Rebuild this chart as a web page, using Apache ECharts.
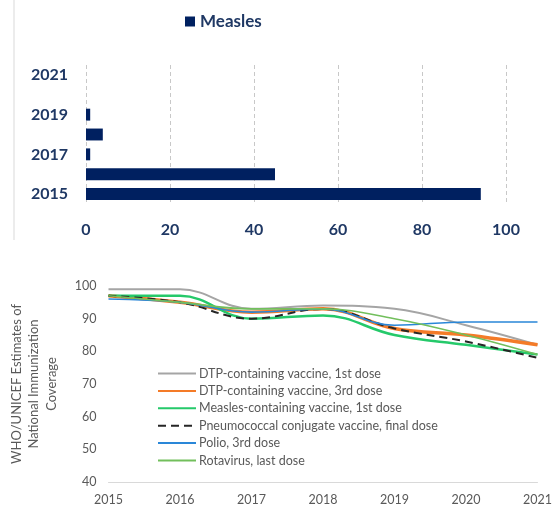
<!DOCTYPE html>
<html>
<head>
<meta charset="utf-8">
<script src="https://cdn.jsdelivr.net/npm/echarts@6/dist/echarts.min.js"></script>
<style>
  html, body { margin: 0; padding: 0; background: #fff; }
  #chart { width: 555px; height: 509px; }
</style>
</head>
<body>
<div id="chart"></div>
<script>
// top chart: measles cases per year
var barYears = ['2015', '2016', '2017', '2018', '2019', '2020', '2021'];
var measlesCases = [94, 45, 1, 4, 1, 0, 0];
var barTicks = [0, 20, 40, 60, 80, 100];

// bottom chart: coverage estimates
var lineYears = ['2015', '2016', '2017', '2018', '2019', '2020', '2021'];
var dtp1 = [99, 99, 93, 94, 93, 88, 82];
var dtp3 = [97, 95, 92, 93, 87, 85, 82];
var mcv1 = [97, 97, 90, 91, 85, 82, 79];
var pcvFinal = [97, 95, 90, 93, 87, 83, 78];
var polio3 = [96, 95, 92, 93, 88, 89, 89];
var rotaLast = [97, 95, 93, 93, 90, 85, 79];
var coverageTicks = [40, 50, 60, 70, 80, 90, 100];

var navy = '#1F3864';
var grey = '#595959';

var lineSeries = [
    { name: 'DTP-containing vaccine, 1st dose', data: dtp1, color: '#A5A5A5', width: 2, type: 'solid' },
    { name: 'DTP-containing vaccine, 3rd dose', data: dtp3, color: '#F47B28', width: 3.5, type: 'solid' },
    { name: 'Measles-containing vaccine, 1st dose', data: mcv1, color: '#25C96A', width: 2.5, type: 'solid' },
    { name: 'Pneumococcal conjugate vaccine, final dose', data: pcvFinal, color: '#262626', width: 2, type: [8, 5] },
    { name: 'Polio, 3rd dose', data: polio3, color: '#2A87D8', width: 1.6, type: 'solid' },
    { name: 'Rotavirus, last dose', data: rotaLast, color: '#72BF5C', width: 1.6, type: 'solid' }
];

var dom = document.getElementById('chart');
var myChart = echarts.init(dom, null, { renderer: 'canvas' });

var series = [{
    name: 'Measles',
    type: 'bar',
    xAxisIndex: 0,
    yAxisIndex: 0,
    data: measlesCases,
    barCategoryGap: '40%',
    itemStyle: { color: '#002060' }
}];

lineSeries.forEach(function (s) {
    series.push({
        name: s.name,
        type: 'line',
        xAxisIndex: 1,
        yAxisIndex: 1,
        data: s.data,
        smooth: 0.4,
        symbol: 'none',
        color: s.color,
        lineStyle: { color: s.color, width: s.width, type: s.type }
    });
});

var option = {
    animation: false,
    textStyle: { fontFamily: 'Lato, sans-serif' },
    graphic: [{
        type: 'line',
        shape: { x1: 14, y1: 0, x2: 14, y2: 240 },
        style: { stroke: '#D9D9D9', lineWidth: 1 }
    }],
    legend: [{
        data: ['Measles'],
        left: 180,
        top: 8,
        icon: 'rect',
        itemWidth: 10,
        itemHeight: 10,
        itemGap: 6,
        textStyle: { color: navy, fontSize: 17, fontWeight: 'bold', fontFamily: 'Lato, sans-serif' }
    }, {
        data: lineSeries.map(function (s) { return s.name; }),
        orient: 'vertical',
        left: 152,
        top: 362,
        itemWidth: 38,
        itemHeight: 12,
        itemGap: 4.4,
        itemStyle: { opacity: 0 },
        textStyle: { color: grey, fontSize: 12.5, fontFamily: 'Lato, sans-serif', padding: [0, 0, 0, -2] }
    }],
    grid: [
        { left: 86, right: 49, top: 65, height: 139 },
        { left: 97, right: 14, top: 286, height: 196 }
    ],
    xAxis: [{
        gridIndex: 0,
        type: 'value',
        min: barTicks[0],
        max: barTicks[barTicks.length - 1],
        interval: 20,
        axisLine: { show: false },
        axisTick: { show: false },
        splitLine: { lineStyle: { color: '#C8C8C8', type: [4, 3], width: 1 } },
        axisLabel: { color: navy, fontSize: 16, fontWeight: 'bold', margin: 18 }
    }, {
        gridIndex: 1,
        type: 'category',
        data: lineYears,
        boundaryGap: false,
        axisLine: { lineStyle: { color: '#D9D9D9' } },
        axisTick: { show: false },
        axisLabel: { color: grey, fontSize: 12.5, margin: 11 }
    }],
    yAxis: [{
        gridIndex: 0,
        type: 'category',
        data: barYears,
        axisLine: { show: false },
        axisTick: { show: false },
        axisLabel: { color: navy, fontSize: 16, fontWeight: 'bold', interval: 1, margin: 18 }
    }, {
        gridIndex: 1,
        type: 'value',
        min: coverageTicks[0],
        max: coverageTicks[coverageTicks.length - 1],
        interval: 10,
        axisLine: { show: false },
        axisTick: { show: false },
        splitLine: { show: false },
        axisLabel: { color: grey, fontSize: 12.5, margin: 12 },
        name: 'WHO/UNICEF Estimates of\nNational Immunization\nCoverage',
        nameLocation: 'middle',
        nameRotate: 90,
        nameGap: 48,
        nameTextStyle: { color: grey, fontSize: 13, lineHeight: 17.5, align: 'center' }
    }],
    series: series
};

if (option && typeof option === 'object') {
    myChart.setOption(option);
}

window.addEventListener('resize', myChart.resize);
</script>
</body>
</html>
